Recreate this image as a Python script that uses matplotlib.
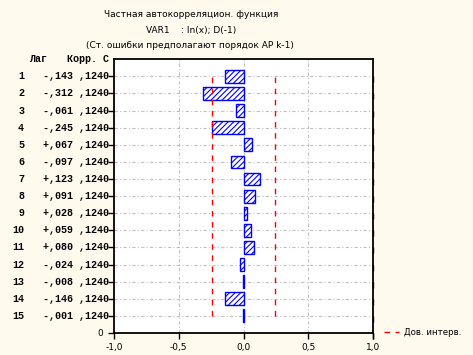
import matplotlib.pyplot as plt
import matplotlib.transforms as mtrans
import numpy as np

lags = list(range(1, 16))
pacf = [-0.143, -0.312, -0.061, -0.245, 0.067, -0.097, 0.123, 0.091,
        0.028, 0.059, 0.080, -0.024, -0.008, -0.146, -0.001]
se = 0.124
corr_txt = ['-,143', '-,312', '-,061', '-,245', '+,067', '-,097', '+,123', '+,091',
            '+,028', '+,059', '+,080', '-,024', '-,008', '-,146', '-,001']
se_txt = ',1240'
xticks = [-1.0, -0.5, 0.0, 0.5, 1.0]
xtick_labels = ['-1,0', '-0,5', '0,0', '0,5', '1,0']

bg = '#FFF9EE'
plt.rcParams['hatch.color'] = '#0000FF'
plt.rcParams['hatch.linewidth'] = 0.8

fig = plt.figure(figsize=(4.73, 3.55), dpi=100, facecolor=bg)
ax = fig.add_axes([0.241, 0.062, 0.548, 0.771])
ax.set_facecolor('white')

ypos = [16 - k for k in lags]
ax.barh(ypos, pacf, height=0.75, color='white', edgecolor='#0000FF',
        linewidth=1.0, hatch='//////', zorder=3)

lim = 1.96 * se
ax.plot([-lim, -lim], [1, 15], color='red', linestyle=(0, (4, 4)), lw=1.0, zorder=4,
        label='Дов. интерв.')
ax.plot([lim, lim], [1, 15], color='red', linestyle=(0, (4, 4)), lw=1.0, zorder=4)

ax.set_xlim(-1, 1)
ax.set_ylim(0, 16)
ax.set_xticks(xticks)
ax.set_xticklabels(xtick_labels, fontsize=6.5, family='DejaVu Sans')
ax.set_yticks(range(0, 16))
ax.set_yticklabels(['0'] + [''] * 15, fontsize=6.5)
ax.tick_params(axis='x', direction='out', length=4, width=1, pad=3)
ax.tick_params(axis='y', direction='out', length=4, width=1, pad=4,
               right=True)
for t in ax.yaxis.get_major_ticks():
    t.tick2line.set_marker(3)  # inward tick on right
for sp in ax.spines.values():
    sp.set_linewidth(1.3)

gls = (0, (3, 2, 1, 2))
for y in range(1, 16):
    ax.axhline(y, color='#C0C0C0', lw=0.8, linestyle=gls, zorder=1)
for x in [-0.5, 0.0, 0.5]:
    ax.axvline(x, color='#C0C0C0', lw=0.8, linestyle=gls, zorder=1)

# table on the left
tr = mtrans.blended_transform_factory(fig.transFigure, ax.transData)
mono = dict(family='Liberation Mono', fontweight='bold', fontsize=7.2,
            transform=tr, va='center', clip_on=False)
ax.text(0.063, 16.0, 'Лаг', ha='left', **mono)
ax.text(0.2315, 16.0, 'Корр. С', ha='right', **mono)
for k, c in zip(lags, corr_txt):
    ax.text(0.051, 16 - k, str(k), ha='right', **mono)
    ax.text(0.2315, 16 - k, c + ' ' + se_txt, ha='right', **mono)

# titles
tfont = dict(fontsize=6.5, family='DejaVu Sans', ha='center', va='center')
fig.text(0.404, 0.960, 'Частная автокорреляцион. функция', **tfont)
fig.text(0.404, 0.915, 'VAR1    : ln(x); D(-1)', **tfont)
fig.text(0.402, 0.873, '(Ст. ошибки предполагают порядок AP k-1)', **tfont)

fig.legend(loc='center left', bbox_to_anchor=(0.795, 0.062), frameon=False,
           fontsize=6.2, handlelength=1.8, handletextpad=0.5)

plt.savefig('out.png', dpi=100, facecolor=bg)
